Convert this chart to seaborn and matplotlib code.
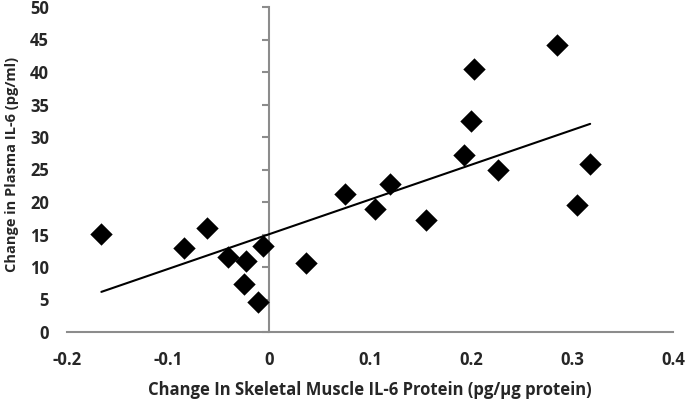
import numpy as np
import pandas as pd
import seaborn as sns
import matplotlib.pyplot as plt

# change in skeletal muscle IL-6 protein vs change in plasma IL-6
muscle_il6 = [-0.166, -0.084, -0.061, -0.041, -0.023, -0.025, -0.011, -0.006, 0.037,
              0.075, 0.105, 0.120, 0.155, 0.193, 0.200, 0.203, 0.227, 0.285, 0.305, 0.318]
plasma_il6 = [15.1, 12.9, 16.0, 11.5, 11.0, 7.4, 4.6, 13.2, 10.6,
              21.3, 18.9, 22.8, 17.3, 27.2, 32.5, 40.4, 25.0, 44.1, 19.6, 25.8]

x_ticks = [-0.2, -0.1, 0, 0.1, 0.2, 0.3, 0.4]
y_ticks = [0, 5, 10, 15, 20, 25, 30, 35, 40, 45, 50]

df = pd.DataFrame({'muscle': muscle_il6, 'plasma': plasma_il6})

sns.set_style('white')
plt.rcParams['font.family'] = ['Open Sans', 'DejaVu Sans']

fig = plt.figure(figsize=(6.86, 4.0), dpi=100)
ax = fig.add_axes([0.0977, 0.17, 0.8833, 0.8125])

sns.regplot(data=df, x='muscle', y='plasma', ci=None, marker='D', ax=ax,
            scatter_kws={'s': 130, 'color': 'black', 'linewidths': 0, 'alpha': 1},
            line_kws={'color': 'black', 'linewidth': 1.5})

ax.set_xlim(-0.2, 0.4)
ax.set_ylim(0, 50)
ax.set_xticks(x_ticks)
ax.set_xticklabels(['-0.2', '-0.1', '0', '0.1', '0.2', '0.3', '0.4'])
ax.set_yticks(y_ticks)

axis_grey = '#8c8c8c'
for side in ['top', 'right', 'left']:
    ax.spines[side].set_visible(False)
ax.spines['bottom'].set_color(axis_grey)
ax.spines['bottom'].set_linewidth(1.5)

ax.tick_params(axis='x', direction='out', length=5, width=1.5, color=axis_grey,
               labelsize=12, pad=9)
ax.tick_params(axis='y', length=0, labelsize=12, pad=13)
for lab in ax.get_xticklabels() + ax.get_yticklabels():
    lab.set_fontweight('bold')

# vertical axis crossing at x = 0
sec = ax.secondary_yaxis(1 / 3)
sec.set_yticks(y_ticks)
sec.tick_params(axis='y', direction='out', length=5, width=1.5, color=axis_grey,
                labelleft=False, labelright=False)
sec.spines['left'].set_color(axis_grey)
sec.spines['left'].set_linewidth(1.5)
for side in ['top', 'right', 'bottom']:
    sec.spines[side].set_visible(False)

ax.set_xlabel('Change In Skeletal Muscle IL-6 Protein (pg/µg protein)',
              fontsize=12, fontweight='bold', labelpad=8)
ax.set_ylabel('Change in Plasma IL-6 (pg/ml)', fontsize=10.5, fontweight='bold')
ax.yaxis.set_label_coords(-0.08, 0.515)

fig.savefig('out.png', dpi=100)
